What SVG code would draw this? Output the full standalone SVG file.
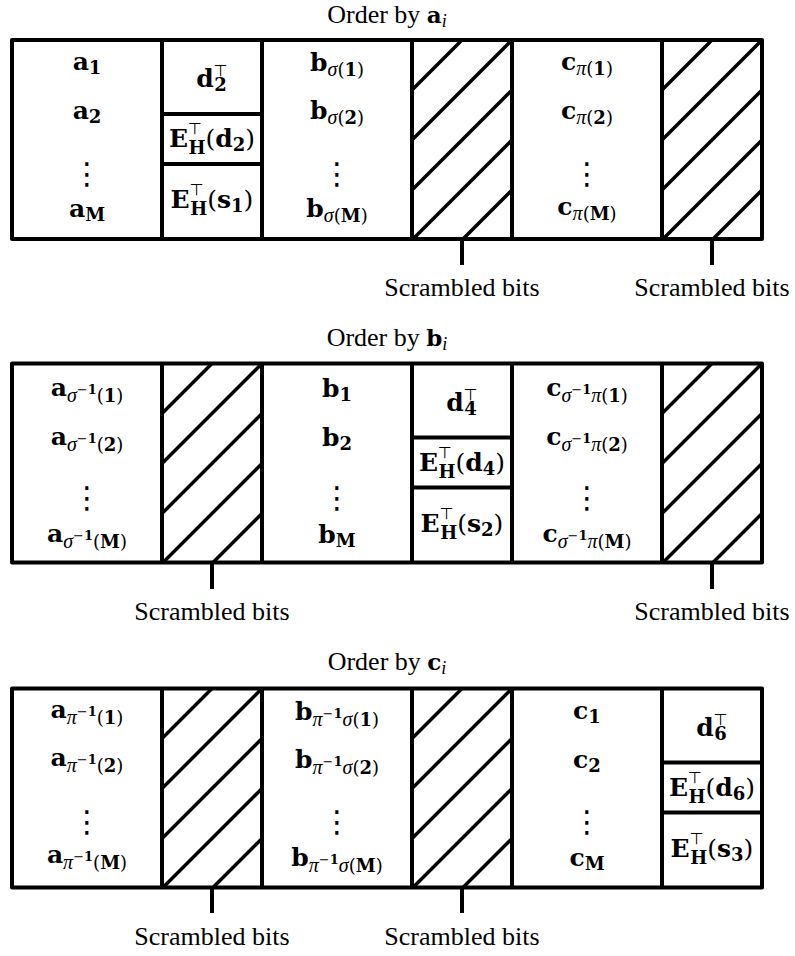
<svg xmlns="http://www.w3.org/2000/svg" xmlns:xlink="http://www.w3.org/1999/xlink" width="795" height="956" viewBox="0 0 795 956">
<style>
.box{fill:#fff;stroke:#000;stroke-width:4;stroke-linejoin:round}
.div{stroke:#000;stroke-width:4;fill:none}
.hatch{stroke:#000;stroke-width:3.5;fill:none}
.tick{stroke:#000;stroke-width:4;fill:none}
.title,.lbl{font-family:"Liberation Serif","Times New Roman",serif;font-size:26px;fill:#000;text-anchor:middle}
.tb{font-family:"DejaVu Serif",serif;font-weight:bold;font-size:23px}
.ti{font-family:"Liberation Serif",serif;font-style:italic;font-size:18px}
.m{font-family:"DejaVu Serif","Liberation Serif",serif;font-weight:bold;font-size:25px;fill:#000;text-anchor:middle}
.s{font-size:18px}
.ss{font-size:13px}
.g{font-family:"Liberation Serif",serif;font-style:italic;font-weight:normal;font-size:20px}
.n{font-weight:normal}
.t{font-family:"DejaVu Sans",sans-serif;font-weight:normal;font-size:16px}
.dots{font-family:"DejaVu Sans",sans-serif;font-size:30px;fill:#000;text-anchor:middle}
</style>
<defs>
<path id="hatch" class="hatch" d="M0,50 L50,0 M0,100 L100,0 M0,150 L100,50 M1,199 L100,100 M51,199 L100,150"/>
</defs>

<!-- Panel 1 -->
<g id="panel1">
<text class="title" x="387" y="23">Order by <tspan class="tb">a</tspan><tspan class="ti" dy="4">i</tspan></text>
<rect class="box" x="12" y="40" width="750" height="199"/>
<g id="p1-col-a">
<text class="m" x="87" y="70">a<tspan class="s" dy="4">1</tspan></text>
<text class="m" x="87" y="119">a<tspan class="s" dy="4">2</tspan></text>
<text class="dots" x="87" y="184">⋮</text>
<text class="m" x="87" y="217">a<tspan class="s" dy="4">M</tspan></text>
</g>
<g id="p1-col-d">
<line class="div" x1="162" y1="114" x2="262" y2="114"/>
<line class="div" x1="162" y1="164" x2="262" y2="164"/>
<text class="m" x="212" y="87">d<tspan class="t" dy="-11">⊤</tspan><tspan class="s" dx="-13.4" dy="15">2</tspan></text>
<text class="m" x="212" y="147">E<tspan class="t" dy="-13">⊤</tspan><tspan class="s" dx="-13.4" dy="20">H</tspan><tspan class="n" dy="-7">(</tspan>d<tspan class="s" dy="4">2</tspan><tspan class="n" dy="-4">)</tspan></text>
<text class="m" x="212" y="208">E<tspan class="t" dy="-13">⊤</tspan><tspan class="s" dx="-13.4" dy="20">H</tspan><tspan class="n" dy="-7">(</tspan>s<tspan class="s" dy="4">1</tspan><tspan class="n" dy="-4">)</tspan></text>
</g>
<g id="p1-col-b">
<text class="m" x="337" y="71">b<tspan class="s" dy="5"><tspan class="g">σ</tspan><tspan class="n">(</tspan>1<tspan class="n">)</tspan></tspan></text>
<text class="m" x="337" y="119">b<tspan class="s" dy="5"><tspan class="g">σ</tspan><tspan class="n">(</tspan>2<tspan class="n">)</tspan></tspan></text>
<text class="dots" x="337" y="184">⋮</text>
<text class="m" x="337" y="217">b<tspan class="s" dy="5"><tspan class="g">σ</tspan><tspan class="n">(</tspan>M<tspan class="n">)</tspan></tspan></text>
</g>
<g id="p1-scr1"><use xlink:href="#hatch" x="412" y="40"/></g>
<g id="p1-col-c">
<text class="m" x="587" y="70">c<tspan class="s" dy="5"><tspan class="g">π</tspan><tspan class="n">(</tspan>1<tspan class="n">)</tspan></tspan></text>
<text class="m" x="587" y="119">c<tspan class="s" dy="5"><tspan class="g">π</tspan><tspan class="n">(</tspan>2<tspan class="n">)</tspan></tspan></text>
<text class="dots" x="587" y="184">⋮</text>
<text class="m" x="587" y="215">c<tspan class="s" dy="5"><tspan class="g">π</tspan><tspan class="n">(</tspan>M<tspan class="n">)</tspan></tspan></text>
</g>
<g id="p1-scr2"><use xlink:href="#hatch" x="662" y="40"/></g>
<line class="div" x1="162" y1="40" x2="162" y2="239"/>
<line class="div" x1="262" y1="40" x2="262" y2="239"/>
<line class="div" x1="412" y1="40" x2="412" y2="239"/>
<line class="div" x1="512" y1="40" x2="512" y2="239"/>
<line class="div" x1="662" y1="40" x2="662" y2="239"/>
<text class="lbl" x="462" y="296">Scrambled bits</text>
<text class="lbl" x="712" y="296">Scrambled bits</text>
</g>

<!-- Panel 2 -->
<g id="panel2">
<text class="title" x="387" y="346">Order by <tspan class="tb">b</tspan><tspan class="ti" dy="4">i</tspan></text>
<rect class="box" x="12" y="363.5" width="750" height="199"/>
<g id="p2-col-a">
<text class="m" x="87" y="396">a<tspan class="s" dy="6"><tspan class="g">σ</tspan><tspan class="ss" dy="-8"><tspan class="n">−</tspan>1</tspan><tspan class="n" dy="8">(</tspan>1<tspan class="n">)</tspan></tspan></text>
<text class="m" x="87" y="445">a<tspan class="s" dy="6"><tspan class="g">σ</tspan><tspan class="ss" dy="-8"><tspan class="n">−</tspan>1</tspan><tspan class="n" dy="8">(</tspan>2<tspan class="n">)</tspan></tspan></text>
<text class="dots" x="87" y="508">⋮</text>
<text class="m" x="87" y="542">a<tspan class="s" dy="6"><tspan class="g">σ</tspan><tspan class="ss" dy="-8"><tspan class="n">−</tspan>1</tspan><tspan class="n" dy="8">(</tspan>M<tspan class="n">)</tspan></tspan></text>
</g>
<g id="p2-scr1"><use xlink:href="#hatch" x="162" y="363.5"/></g>
<g id="p2-col-b">
<text class="m" x="337" y="397">b<tspan class="s" dy="4">1</tspan></text>
<text class="m" x="337" y="446">b<tspan class="s" dy="4">2</tspan></text>
<text class="dots" x="337" y="508">⋮</text>
<text class="m" x="337" y="543">b<tspan class="s" dy="4">M</tspan></text>
</g>
<g id="p2-col-d">
<line class="div" x1="412" y1="437.5" x2="512" y2="437.5"/>
<line class="div" x1="412" y1="487.5" x2="512" y2="487.5"/>
<text class="m" x="462" y="410.5">d<tspan class="t" dy="-11">⊤</tspan><tspan class="s" dx="-13.4" dy="15">4</tspan></text>
<text class="m" x="462" y="470.5">E<tspan class="t" dy="-13">⊤</tspan><tspan class="s" dx="-13.4" dy="20">H</tspan><tspan class="n" dy="-7">(</tspan>d<tspan class="s" dy="4">4</tspan><tspan class="n" dy="-4">)</tspan></text>
<text class="m" x="462" y="531.5">E<tspan class="t" dy="-13">⊤</tspan><tspan class="s" dx="-13.4" dy="20">H</tspan><tspan class="n" dy="-7">(</tspan>s<tspan class="s" dy="4">2</tspan><tspan class="n" dy="-4">)</tspan></text>
</g>
<g id="p2-col-c">
<text class="m" x="587" y="396">c<tspan class="s" dy="6"><tspan class="g">σ</tspan><tspan class="ss" dy="-8"><tspan class="n">−</tspan>1</tspan><tspan class="g" dy="8">π</tspan><tspan class="n">(</tspan>1<tspan class="n">)</tspan></tspan></text>
<text class="m" x="587" y="445">c<tspan class="s" dy="6"><tspan class="g">σ</tspan><tspan class="ss" dy="-8"><tspan class="n">−</tspan>1</tspan><tspan class="g" dy="8">π</tspan><tspan class="n">(</tspan>2<tspan class="n">)</tspan></tspan></text>
<text class="dots" x="587" y="508">⋮</text>
<text class="m" x="587" y="542">c<tspan class="s" dy="6"><tspan class="g">σ</tspan><tspan class="ss" dy="-8"><tspan class="n">−</tspan>1</tspan><tspan class="g" dy="8">π</tspan><tspan class="n">(</tspan>M<tspan class="n">)</tspan></tspan></text>
</g>
<g id="p2-scr2"><use xlink:href="#hatch" x="662" y="363.5"/></g>
<line class="div" x1="162" y1="363.5" x2="162" y2="562.5"/>
<line class="div" x1="262" y1="363.5" x2="262" y2="562.5"/>
<line class="div" x1="412" y1="363.5" x2="412" y2="562.5"/>
<line class="div" x1="512" y1="363.5" x2="512" y2="562.5"/>
<line class="div" x1="662" y1="363.5" x2="662" y2="562.5"/>
<text class="lbl" x="212" y="620">Scrambled bits</text>
<text class="lbl" x="712" y="620">Scrambled bits</text>
</g>

<!-- Panel 3 -->
<g id="panel3">
<text class="title" x="387" y="670">Order by <tspan class="tb">c</tspan><tspan class="ti" dy="4">i</tspan></text>
<rect class="box" x="12" y="688.5" width="750" height="199"/>
<g id="p3-col-a">
<text class="m" x="87" y="718">a<tspan class="s" dy="6"><tspan class="g">π</tspan><tspan class="ss" dy="-8"><tspan class="n">−</tspan>1</tspan><tspan class="n" dy="8">(</tspan>1<tspan class="n">)</tspan></tspan></text>
<text class="m" x="87" y="766">a<tspan class="s" dy="6"><tspan class="g">π</tspan><tspan class="ss" dy="-8"><tspan class="n">−</tspan>1</tspan><tspan class="n" dy="8">(</tspan>2<tspan class="n">)</tspan></tspan></text>
<text class="dots" x="87" y="832">⋮</text>
<text class="m" x="87" y="863">a<tspan class="s" dy="6"><tspan class="g">π</tspan><tspan class="ss" dy="-8"><tspan class="n">−</tspan>1</tspan><tspan class="n" dy="8">(</tspan>M<tspan class="n">)</tspan></tspan></text>
</g>
<g id="p3-scr1"><use xlink:href="#hatch" x="162" y="688.5"/></g>
<g id="p3-col-b">
<text class="m" x="337" y="720">b<tspan class="s" dy="6"><tspan class="g">π</tspan><tspan class="ss" dy="-8"><tspan class="n">−</tspan>1</tspan><tspan class="g" dy="8">σ</tspan><tspan class="n">(</tspan>1<tspan class="n">)</tspan></tspan></text>
<text class="m" x="337" y="768">b<tspan class="s" dy="6"><tspan class="g">π</tspan><tspan class="ss" dy="-8"><tspan class="n">−</tspan>1</tspan><tspan class="g" dy="8">σ</tspan><tspan class="n">(</tspan>2<tspan class="n">)</tspan></tspan></text>
<text class="dots" x="337" y="832">⋮</text>
<text class="m" x="337" y="866">b<tspan class="s" dy="6"><tspan class="g">π</tspan><tspan class="ss" dy="-8"><tspan class="n">−</tspan>1</tspan><tspan class="g" dy="8">σ</tspan><tspan class="n">(</tspan>M<tspan class="n">)</tspan></tspan></text>
</g>
<g id="p3-scr2"><use xlink:href="#hatch" x="412" y="688.5"/></g>
<g id="p3-col-c">
<text class="m" x="587" y="719">c<tspan class="s" dy="4">1</tspan></text>
<text class="m" x="587" y="768">c<tspan class="s" dy="4">2</tspan></text>
<text class="dots" x="587" y="832">⋮</text>
<text class="m" x="587" y="866">c<tspan class="s" dy="4">M</tspan></text>
</g>
<g id="p3-col-d">
<line class="div" x1="662" y1="762.5" x2="762" y2="762.5"/>
<line class="div" x1="662" y1="812.5" x2="762" y2="812.5"/>
<text class="m" x="712" y="735.5">d<tspan class="t" dy="-11">⊤</tspan><tspan class="s" dx="-13.4" dy="15">6</tspan></text>
<text class="m" x="712" y="795.5">E<tspan class="t" dy="-13">⊤</tspan><tspan class="s" dx="-13.4" dy="20">H</tspan><tspan class="n" dy="-7">(</tspan>d<tspan class="s" dy="4">6</tspan><tspan class="n" dy="-4">)</tspan></text>
<text class="m" x="712" y="856.5">E<tspan class="t" dy="-13">⊤</tspan><tspan class="s" dx="-13.4" dy="20">H</tspan><tspan class="n" dy="-7">(</tspan>s<tspan class="s" dy="4">3</tspan><tspan class="n" dy="-4">)</tspan></text>
</g>
<line class="div" x1="162" y1="688.5" x2="162" y2="887.5"/>
<line class="div" x1="262" y1="688.5" x2="262" y2="887.5"/>
<line class="div" x1="412" y1="688.5" x2="412" y2="887.5"/>
<line class="div" x1="512" y1="688.5" x2="512" y2="887.5"/>
<line class="div" x1="662" y1="688.5" x2="662" y2="887.5"/>
<text class="lbl" x="212" y="945">Scrambled bits</text>
<text class="lbl" x="462" y="945">Scrambled bits</text>
</g>

<g id="connectors">
<line class="tick" x1="462" y1="239" x2="462" y2="265"/>
<line class="tick" x1="712" y1="239" x2="712" y2="265"/>
<line class="tick" x1="212" y1="562.5" x2="212" y2="589"/>
<line class="tick" x1="712" y1="562.5" x2="712" y2="589"/>
<line class="tick" x1="212" y1="887.5" x2="212" y2="913"/>
<line class="tick" x1="462" y1="887.5" x2="462" y2="913"/>
</g>
</svg>
